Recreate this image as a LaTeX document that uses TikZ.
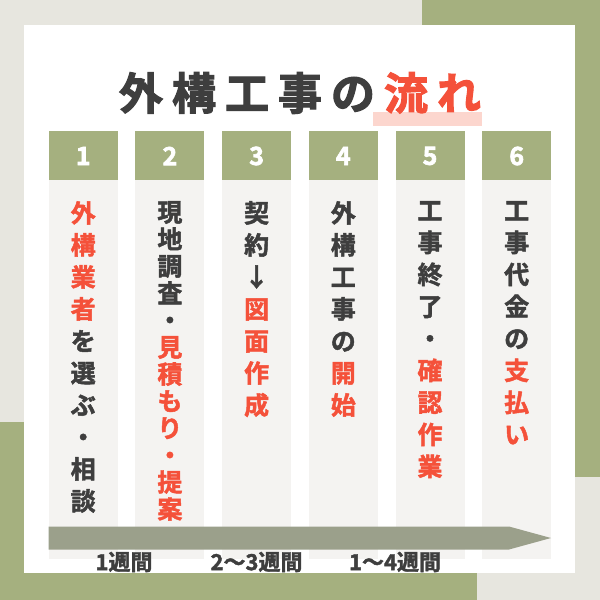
\documentclass[tikz,border=0pt]{standalone}
\usepackage{fontspec}
\newfontfamily\jpb{Noto Sans CJK JP Bold}[FakeBold=1.8]
\newfontfamily\jpt{Noto Sans CJK JP Bold}[FakeBold=2.5]
\definecolor{bgbeige}{HTML}{E7E6DF}
\definecolor{leaf}{HTML}{A5B07F}
\definecolor{ink}{HTML}{3E3E3E}
\definecolor{accent}{HTML}{F4513A}
\definecolor{colbody}{HTML}{F4F3F1}
\definecolor{arrowc}{HTML}{9BA08B}
\definecolor{pinkhl}{HTML}{FCD6CE}
\newcommand\rc[1]{\textcolor{accent}{#1}}
\newcommand\tb[1]{\makebox[53pt]{#1}}
\tikzset{
  hdr/.style={fill=leaf, draw=none},
  body/.style={fill=colbody, draw=none},
  num/.style={text=white, font=\jpt\fontsize{25}{30}\selectfont, inner sep=0pt},
  vtext/.style={text=ink, font=\jpb\fontsize{25}{32}\selectfont, align=center, inner sep=0pt, anchor=north},
  vtight/.style={vtext, font=\jpb\fontsize{25}{27}\selectfont},
  dur/.style={text=ink, font=\jpb\fontsize{22}{26}\selectfont, inner sep=0pt},
}
\begin{document}
\begin{tikzpicture}[x=1pt,y=-1pt]
\useasboundingbox (0,0) rectangle (600,600);
\fill[bgbeige] (0,0) rectangle (600,600);
\fill[leaf] (422,0) rectangle (600,477);
\fill[leaf] (0,422) rectangle (477,600);
\fill[white] (24,25) rectangle (575,573);
% title
\fill[pinkhl] (373,112) rectangle (482,125.5);
\node[text=ink, font=\jpt\fontsize{44}{50}\selectfont, inner sep=0pt] (title) at (300,93)
  {\tb{外}\tb{構}\tb{工}\tb{事}\tb{の}\tb{\rc{流}}\tb{\rc{れ}}};
% columns
\foreach \i/\n in {0/1,1/2,2/3,3/4,4/5,5/6}{
  \pgfmathsetmacro\xl{48.7+86.7*\i}
  \fill[colbody] (\xl,180) rectangle ++(69,379);
  \fill[leaf] (\xl,131) rectangle ++(69,49);
  \node[num] (n\n) at (\xl+34.5,156) {\n};
}
\node[vtext] (c1) at (83.2,201) {\rc{外}\\\rc{構}\\\rc{業}\\\rc{者}\\を\\選\\ぶ\\・\\相\\談};
\node[vtight] (c2) at (169.9,201) {現\\地\\調\\査\\・\\\rc{見}\\\rc{積}\\\rc{も}\\\rc{り}\\\rc{・}\\\rc{提}\\\rc{案}};
\node[vtext] (c3) at (256.6,201) {契\\約\\↓\\\rc{図}\\\rc{面}\\\rc{作}\\\rc{成}};
\node[vtext] (c4) at (343.3,201) {外\\構\\工\\事\\の\\\rc{開}\\\rc{始}};
\node[vtext] (c5) at (430,201) {工\\事\\終\\了\\・\\\rc{確}\\\rc{認}\\\rc{作}\\\rc{業}};
\node[vtext] (c6) at (516.7,201) {工\\事\\代\\金\\の\\\rc{支}\\\rc{払}\\\rc{い}};
% timeline arrow
\fill[arrowc] (48.7,526.5) -- (509,526.5) -- (551,538) -- (509,549.5) -- (48.7,549.5) -- cycle;
\node[dur] (d1) at (124,562) {1週間};
\node[dur] (d2) at (256.5,562) {2〜3週間};
\node[dur] (d3) at (395,562) {1〜4週間};
\end{tikzpicture}
\end{document}
